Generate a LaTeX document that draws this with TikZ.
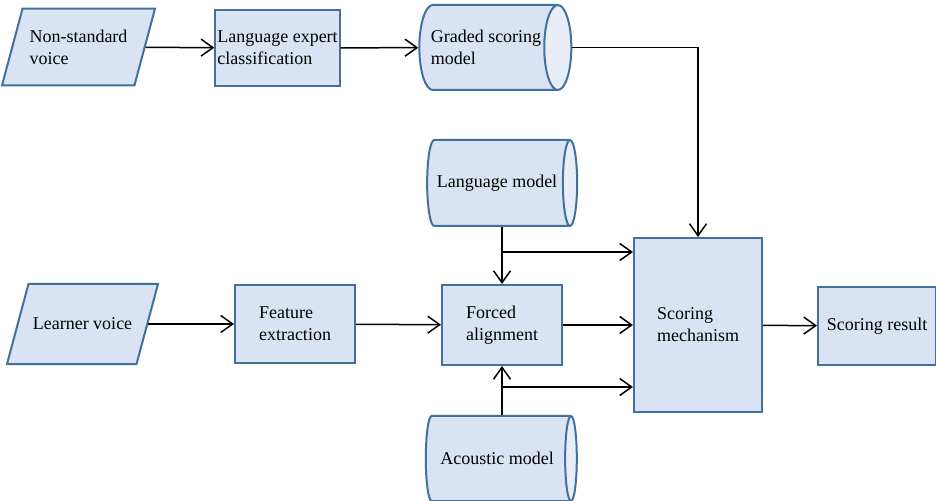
\documentclass[tikz,border=0pt]{standalone}
\usepackage{fontspec}
\setmainfont{Liberation Serif}
\usetikzlibrary{arrows.meta, shapes.geometric}
\definecolor{boxblue}{RGB}{65,113,156}
\definecolor{boxfill}{RGB}{218,227,243}
\definecolor{endfill}{RGB}{232,238,248}

\begin{document}
\begin{tikzpicture}[x=0.5pt, y=-0.5pt,
  box/.style={rectangle, draw=boxblue, line width=1pt, fill=boxfill,
              align=left, inner sep=1pt, font=\fontsize{9}{11}\selectfont},
  iobox/.style={trapezium, trapezium left angle=75, trapezium right angle=105,
                trapezium stretches body=true, draw=boxblue, line width=1pt,
                fill=boxfill, align=left, inner xsep=1pt,
                font=\fontsize{9}{11}\selectfont},
  dbox/.style={cylinder, aspect=0.7, draw=boxblue, line width=1pt,
               cylinder uses custom fill, cylinder body fill=boxfill,
               cylinder end fill=endfill, align=left, inner sep=1pt,
               font=\fontsize{9}{11}\selectfont},
  arrow/.style={-{Straight Barb[length=6pt, width=8.5pt]}, line width=0.75pt}
]
\useasboundingbox (0,0) rectangle (936,501);

% top row
\node[iobox, minimum width=76.5pt, inner ysep=10.5pt] (nsv) at (78.5,47)
  {Non-standard\\voice};
\node[box, minimum width=59.5pt, minimum height=38pt] (lec) at (277.5,48)
  {Language expert\\classification};
\node[dbox, minimum height=76pt, minimum width=42.5pt] (gsm) at (486,47.5)
  {Graded scoring\\model};

% models
\node[dbox, minimum height=75pt, minimum width=43pt] (lm) at (497,183)
  {Language model};
\node[dbox, minimum height=75.5pt, minimum width=42.5pt] (am) at (497,458.5)
  {Acoustic model};

% middle row
\node[iobox, minimum width=75.5pt, inner ysep=17pt] (lv) at (82.5,324)
  {Learner voice};
\node[box, minimum width=60pt, minimum height=39pt] (fe) at (295,324)
  {Feature\\extraction};
\node[box, minimum width=60pt, minimum height=40pt] (fa) at (502,325)
  {Forced\\alignment};
\node[box, minimum width=64pt, minimum height=87pt] (sm) at (698,325)
  {Scoring\\mechanism};
\node[box, minimum width=59pt, minimum height=39pt] (sr) at (877,326)
  {Scoring result};

\coordinate (lmsplit) at (502,252);
\coordinate (amsplit) at (502,387);

\draw[arrow] (nsv) -- (lec);
\draw[arrow] (lec) -- (gsm);
\draw[arrow] (gsm.east) -| (sm.north);
\draw[arrow] (lv) -- (fe);
\draw[arrow] (fe) -- (fa);
\draw[arrow] (fa) -- (fa -| sm.west);
\draw[arrow] (sm) -- (sr);
\draw[arrow] (fa.north |- lm.south) -- (fa.north);
\draw[arrow] (lmsplit) -- (lmsplit -| sm.west);
\draw[arrow] (fa.south |- am.north) -- (fa.south);
\draw[arrow] (amsplit) -- (amsplit -| sm.west);

\end{tikzpicture}
\end{document}
